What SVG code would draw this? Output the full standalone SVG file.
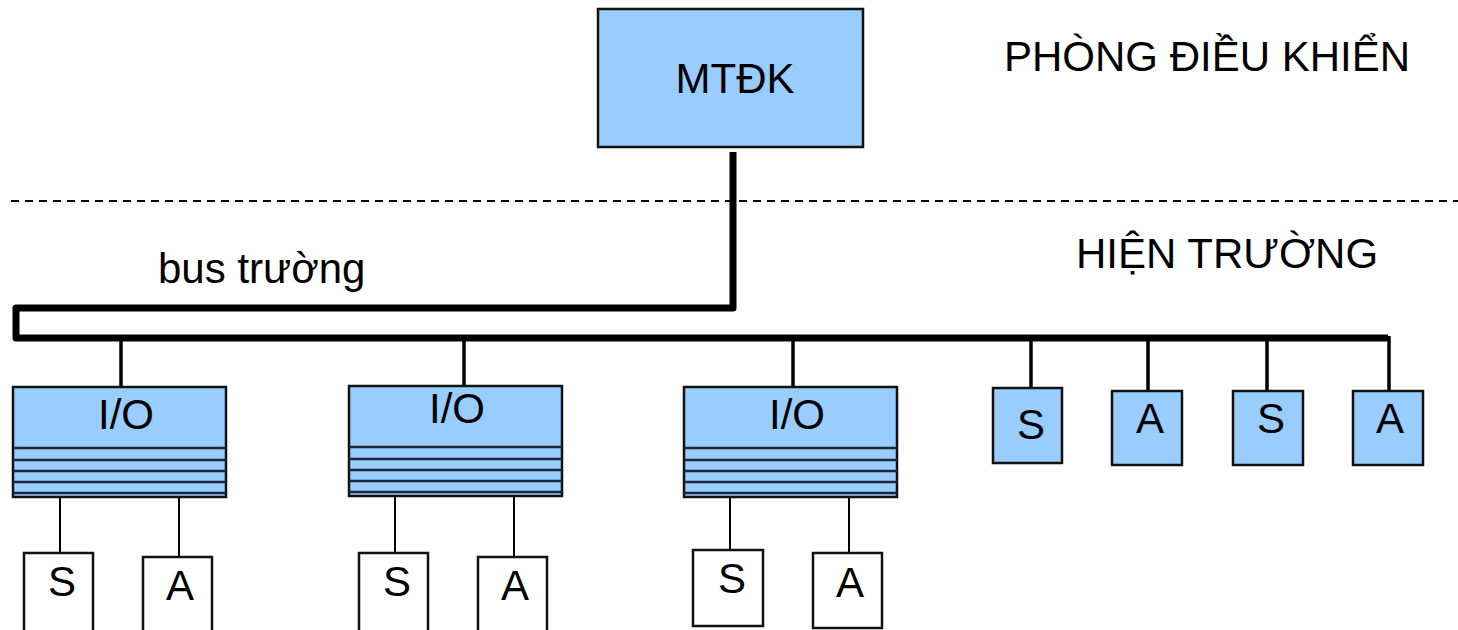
<svg xmlns="http://www.w3.org/2000/svg" width="1458" height="630" viewBox="0 0 1458 630">
<style>
text{font-family:"Liberation Sans",Arial,sans-serif;font-size:42px;fill:#000}
.c{text-anchor:middle}
.blue{fill:#99ccff;stroke:#111;stroke-width:2.5}
.white{fill:#fff;stroke:#111;stroke-width:2.5}
.stripe{stroke:#1c2838;stroke-width:2.5}
.bus{fill:none;stroke:#000;stroke-width:7;stroke-linejoin:round}
.drop{stroke:#000;stroke-width:3.5}
.thin{stroke:#000;stroke-width:2}
</style>
<rect width="1458" height="630" fill="#fff"/>
<line x1="11" y1="201" x2="1458" y2="201" stroke="#000" stroke-width="2" stroke-dasharray="8 6"/>
<text x="1004" y="71">PHÒNG ĐIỀU KHIỂN</text>
<text x="1076" y="268">HIỆN TRƯỜNG</text>
<text x="158" y="283">bus trường</text>
<g id="connectors">
<path class="bus" d="M733 152 V308 H16 V338 H1388"/>
<line class="drop" x1="121" y1="338" x2="121" y2="387"/>
<line class="drop" x1="464" y1="338" x2="464" y2="387"/>
<line class="drop" x1="793" y1="338" x2="793" y2="387"/>
<line class="drop" x1="1031" y1="338" x2="1031" y2="388"/>
<line class="drop" x1="1148" y1="338" x2="1148" y2="391"/>
<line class="drop" x1="1267" y1="338" x2="1267" y2="391"/>
<line class="drop" x1="1389" y1="336" x2="1389" y2="391"/>
<line class="thin" x1="60" y1="497" x2="60" y2="552"/>
<line class="thin" x1="179" y1="497" x2="179" y2="556"/>
<line class="thin" x1="395" y1="497" x2="395" y2="552"/>
<line class="thin" x1="514" y1="497" x2="514" y2="556"/>
<line class="thin" x1="730" y1="497" x2="730" y2="550"/>
<line class="thin" x1="849" y1="497" x2="849" y2="553"/>
</g>
<g id="mtdk">
<rect class="blue" x="598" y="9" width="265" height="138"/>
<text class="c" x="735" y="93">MTĐK</text>
</g>
<defs>
<g id="io">
<rect class="blue" x="0" y="0" width="213" height="110"/>
<line class="stripe" x1="0" y1="61" x2="213" y2="61" stroke-width="3"/>
<line class="stripe" x1="0" y1="73" x2="213" y2="73"/>
<line class="stripe" x1="0" y1="84" x2="213" y2="84"/>
<line class="stripe" x1="0" y1="95" x2="213" y2="95"/>
<line class="stripe" x1="0" y1="106" x2="213" y2="106"/>
</g>
</defs>
<g id="io1">
<use href="#io" x="13" y="387"/>
<text class="c" x="126" y="429">I/O</text>
</g>
<g id="io2">
<use href="#io" x="349" y="386"/>
<text class="c" x="457" y="423">I/O</text>
</g>
<g id="io3">
<use href="#io" x="684" y="387"/>
<text class="c" x="797" y="429">I/O</text>
</g>
<g id="s1"><rect class="white" x="24" y="553" width="69" height="85"/><text class="c" x="62" y="596">S</text></g>
<g id="a1"><rect class="white" x="143" y="557" width="69" height="85"/><text class="c" x="180" y="600">A</text></g>
<g id="s2"><rect class="white" x="359" y="553" width="69" height="85"/><text class="c" x="397" y="596">S</text></g>
<g id="a2"><rect class="white" x="478" y="557" width="69" height="85"/><text class="c" x="515" y="600">A</text></g>
<g id="s3"><rect class="white" x="693" y="550" width="70" height="76"/><text class="c" x="732" y="593">S</text></g>
<g id="a3"><rect class="white" x="813" y="553" width="69" height="75"/><text class="c" x="850" y="597">A</text></g>
<g id="s4"><rect class="blue" x="993" y="388" width="69" height="75"/><text class="c" x="1031" y="439">S</text></g>
<g id="a4"><rect class="blue" x="1112" y="391" width="70" height="74"/><text class="c" x="1150" y="433">A</text></g>
<g id="s5"><rect class="blue" x="1233" y="391" width="70" height="74"/><text class="c" x="1271" y="433">S</text></g>
<g id="a5"><rect class="blue" x="1353" y="391" width="70" height="74"/><text class="c" x="1390" y="433">A</text></g>
</svg>
